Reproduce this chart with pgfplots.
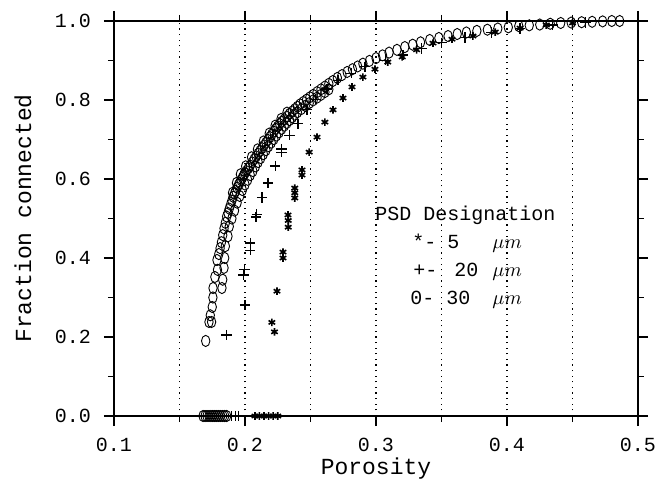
\documentclass[border=0pt]{standalone}
\usepackage{fontspec}
\setmonofont{Liberation Mono}
\usepackage{pgfplots}
\pgfplotsset{compat=1.18}
\begin{document}
\begin{tikzpicture}
\begin{axis}[
  name=ax,
  scale only axis, width=262pt, height=197.5pt,
  xmin=0.1, xmax=0.5, ymin=0, ymax=1,
  xtick={0.1,0.2,0.3,0.4,0.5},
  ytick={0,0.2,0.4,0.6,0.8,1.0},
  minor x tick num=1, minor y tick num=1,
  tick align=outside, major tick length=5pt, minor tick length=3pt,
  xmajorgrids, xminorgrids,
  major grid style={black, line width=0.7pt, dash pattern=on 0.6pt off 2.2pt},
  minor grid style={black, line width=0.7pt, dash pattern=on 0.6pt off 2.2pt},
  axis line style={line width=0.8pt},
  every tick/.style={black, line width=0.7pt},
  scaled ticks=false,
  xticklabel style={yshift=-2.5pt, font=\fontsize{10}{12}\selectfont\ttfamily, /pgf/number format/.cd, fixed, fixed zerofill, precision=1, assume math mode=true},
  yticklabel style={xshift=-3pt, font=\fontsize{10}{12}\selectfont\ttfamily, /pgf/number format/.cd, fixed, fixed zerofill, precision=1, assume math mode=true},
  xlabel={Porosity}, ylabel={Fraction connected},
  every axis x label/.style={at={(axis description cs:0.5,0)}, anchor=base, yshift=-29pt, font=\fontsize{11.5}{13}\selectfont\ttfamily},
  every axis y label/.style={at={(axis description cs:-0.1737,0.5)}, anchor=center, rotate=90, font=\fontsize{11.5}{13}\selectfont\ttfamily},
  clip=false,
]
% 30 um (circles)
\addplot[only marks, mark=o, mark size=2.8pt, mark options={xscale=0.75, line width=0.45pt, black}] coordinates {
(0.168,0) (0.1695,0) (0.171,0) (0.1725,0) (0.174,0) (0.1755,0) (0.177,0) (0.1785,0) (0.180,0) (0.1815,0) (0.183,0) (0.1845,0) (0.186,0)
(0.170,0.19) (0.1725,0.238) (0.1745,0.238) (0.1735,0.255) (0.175,0.276) (0.1755,0.30) (0.1756,0.324) (0.1824,0.324)
(0.177,0.352) (0.179,0.37) (0.1786,0.395) (0.180,0.41) (0.181,0.425) (0.182,0.44) (0.183,0.458) (0.184,0.475) (0.185,0.489)
(0.186,0.505) (0.187,0.514) (0.188,0.525) (0.189,0.535) (0.190,0.545) (0.191,0.555) (0.192,0.563) (0.193,0.57) (0.194,0.578)
(0.195,0.585) (0.196,0.59) (0.197,0.597) (0.198,0.603) (0.199,0.61) (0.200,0.615) (0.201,0.62) (0.2025,0.627) (0.204,0.634)
(0.2055,0.642) (0.207,0.65) (0.2085,0.657) (0.210,0.664) (0.2115,0.671) (0.213,0.678) (0.2145,0.685) (0.216,0.692)
(0.2175,0.699) (0.219,0.706) (0.2205,0.713) (0.222,0.72) (0.2235,0.727) (0.225,0.733) (0.2265,0.739) (0.228,0.745)
(0.230,0.751) (0.232,0.758) (0.234,0.765) (0.236,0.771) (0.238,0.777) (0.240,0.783) (0.242,0.789) (0.2445,0.795)
(0.247,0.801) (0.2495,0.807) (0.252,0.813) (0.255,0.82) (0.258,0.827) (0.261,0.834) (0.264,0.841) (0.267,0.848)
(0.2705,0.856) (0.274,0.863) (0.278,0.871) (0.282,0.878) (0.286,0.885) (0.290,0.892) (0.295,0.899) (0.300,0.906)
(0.305,0.913) (0.310,0.920) (0.316,0.927) (0.322,0.934) (0.328,0.940) (0.334,0.946) (0.341,0.952) (0.348,0.957)
(0.355,0.962) (0.362,0.967) (0.369,0.971) (0.377,0.975) (0.385,0.978) (0.393,0.981) (0.401,0.984) (0.409,0.987)
(0.417,0.989) (0.425,0.991) (0.433,0.993) (0.441,0.995) (0.449,0.996) (0.457,0.997) (0.465,0.998) (0.473,0.999)
(0.480,1.0) (0.486,1.0)
(0.183,0.345) (0.184,0.375) (0.1845,0.40) (0.185,0.43) (0.187,0.455) (0.188,0.48) (0.190,0.50) (0.192,0.52)
(0.194,0.54) (0.196,0.557) (0.198,0.572) (0.200,0.586) (0.202,0.598) (0.204,0.61) (0.206,0.62) (0.208,0.632)
(0.210,0.643) (0.212,0.653) (0.214,0.663) (0.216,0.673) (0.218,0.683) (0.220,0.692) (0.222,0.701) (0.224,0.71)
(0.226,0.718) (0.228,0.727) (0.230,0.735) (0.232,0.742) (0.234,0.749) (0.236,0.756) (0.238,0.763) (0.240,0.769)
(0.243,0.777) (0.246,0.785) (0.249,0.792) (0.252,0.799) (0.255,0.806) (0.258,0.813) (0.261,0.82) (0.264,0.827)
(0.1905,0.565) (0.1935,0.59) (0.1965,0.612) (0.2005,0.632) (0.205,0.655) (0.2095,0.675) (0.214,0.695) (0.2185,0.715)
(0.223,0.735) (0.2275,0.752) (0.232,0.768)
};
% 20 um (plus)
\addplot[only marks, mark=+, mark size=2.6pt, mark options={line width=0.6pt, black}] coordinates {
(0.190,0) (0.1925,0) (0.195,0)
(0.186,0.205) (0.200,0.281) (0.199,0.357) (0.1995,0.37) (0.204,0.42) (0.204,0.438) (0.2084,0.504) (0.209,0.51)
(0.213,0.553) (0.2176,0.59) (0.223,0.633) (0.228,0.668) (0.228,0.676) (0.234,0.711) (0.2405,0.74) (0.2473,0.775)
(0.254,0.802) (0.2626,0.828) (0.271,0.85) (0.281,0.868) (0.2916,0.884) (0.307,0.901) (0.3206,0.914) (0.335,0.93)
(0.350,0.945) (0.368,0.958) (0.388,0.971) (0.410,0.981) (0.435,0.99) (0.460,0.996)
};
% 5 um (stars)
\addplot[only marks, mark=asterisk, mark size=1.9pt, mark options={line width=0.8pt, black}] coordinates {
(0.2076,0) (0.211,0) (0.2145,0) (0.218,0) (0.2215,0) (0.225,0)
(0.2205,0.237) (0.2225,0.213) (0.2244,0.316) (0.229,0.40) (0.229,0.415) (0.233,0.478) (0.233,0.495) (0.2328,0.509)
(0.238,0.552) (0.238,0.565) (0.238,0.577) (0.2435,0.61) (0.2435,0.623) (0.249,0.668) (0.255,0.706) (0.261,0.744)
(0.2672,0.775) (0.2748,0.805) (0.2817,0.833) (0.290,0.858) (0.2992,0.878) (0.309,0.896) (0.320,0.909) (0.331,0.927)
(0.3435,0.944) (0.358,0.954) (0.374,0.962) (0.391,0.972) (0.410,0.982) (0.430,0.99) (0.450,0.995)
};
\node[anchor=base west, inner sep=0pt, font=\fontsize{10}{12}\selectfont\ttfamily] at (axis cs:0.2992,0.4962) {PSD Designation};
\node[anchor=base west, inner sep=0pt, font=\fontsize{10}{12}\selectfont\ttfamily] at (axis cs:0.3275,0.4253) {*-};
\node[anchor=base west, inner sep=0pt, font=\fontsize{10}{12}\selectfont\ttfamily] at (axis cs:0.3542,0.4253) {5};
\node[anchor=base west, inner sep=0pt, font=\fontsize{10}{12}\selectfont] at (axis cs:0.3885,0.4253) {$\mu m$};
\node[anchor=base west, inner sep=0pt, font=\fontsize{10}{12}\selectfont\ttfamily] at (axis cs:0.3282,0.3544) {+-};
\node[anchor=base west, inner sep=0pt, font=\fontsize{10}{12}\selectfont\ttfamily] at (axis cs:0.3595,0.3544) {20};
\node[anchor=base west, inner sep=0pt, font=\fontsize{10}{12}\selectfont] at (axis cs:0.3885,0.3544) {$\mu m$};
\node[anchor=base west, inner sep=0pt, font=\fontsize{10}{12}\selectfont\ttfamily] at (axis cs:0.326,0.2835) {0-};
\node[anchor=base west, inner sep=0pt, font=\fontsize{10}{12}\selectfont\ttfamily] at (axis cs:0.3534,0.2835) {30};
\node[anchor=base west, inner sep=0pt, font=\fontsize{10}{12}\selectfont] at (axis cs:0.3885,0.2835) {$\mu m$};
\end{axis}
\path (ax.south west) ++(-57pt,-33.5pt) coordinate (bl);
\path (ax.north east) ++(13.5pt,10.5pt) coordinate (tr);
\pgfresetboundingbox
\path (bl) rectangle (tr);
\end{tikzpicture}
\end{document}
